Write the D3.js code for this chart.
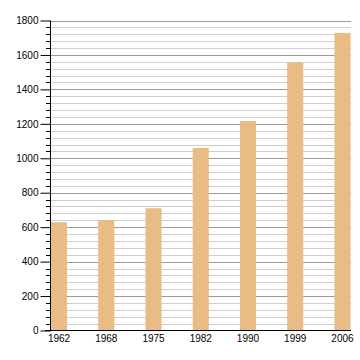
<!DOCTYPE html>
<html><head><meta charset="utf-8">
<script src="https://cdn.jsdelivr.net/npm/d3@7"></script>
<style>body{margin:0;background:#fff}svg{display:block}text{font-family:"Liberation Sans",Arial,sans-serif;font-size:10px;fill:#000}</style>
</head><body><svg id="c" width="360" height="360"></svg>
<script>
const years = ["1962","1968","1975","1982","1990","1999","2006"];
const population = [629, 640, 710, 1060, 1216, 1557, 1728];
const yTicks = [0,200,400,600,800,1000,1200,1400,1600,1800];
const minorStep = 40;

(function(){
const svg = d3.select("#c");
const pL = 50.5, pR = 351, pT = 20.5, pB = 330.5;
const x = d3.scaleBand().domain(years).range([51, 350.5]).paddingInner(0.66).paddingOuter(0);
const y = d3.scaleLinear().domain([0,1800]).range([pB, pT]);
const minors = d3.range(0, 1801, minorStep).filter(v => v % 200 !== 0);

svg.append("g").selectAll("line").data(minors).join("line")
  .attr("x1", pL).attr("x2", pR)
  .attr("y1", d => Math.round(y(d)) + 0.5).attr("y2", d => Math.round(y(d)) + 0.5)
  .attr("stroke", "#cfcfcf").attr("stroke-width", 1);
svg.append("g").selectAll("line").data(yTicks.filter(d=>d>0)).join("line")
  .attr("x1", pL).attr("x2", pR)
  .attr("y1", d => Math.round(y(d)) + 0.5).attr("y2", d => Math.round(y(d)) + 0.5)
  .attr("stroke", "#9a9a9a").attr("stroke-width", 1);

svg.append("g").selectAll("rect").data(years).join("rect")
  .attr("x", d => x(d)).attr("width", x.bandwidth())
  .attr("y", (d,i) => y(population[i])).attr("height", (d,i) => pB - y(population[i]))
  .attr("fill", "#e8bc84");

svg.append("g").selectAll("line").data(minors).join("line")
  .attr("x1", 46).attr("x2", pL)
  .attr("y1", d => Math.round(y(d)) + 0.5).attr("y2", d => Math.round(y(d)) + 0.5)
  .attr("stroke", "#000");
const yAxis = d3.axisLeft(y).tickValues(yTicks).tickSize(10).tickPadding(2).tickFormat(d3.format("d"));
const ga = svg.append("g").attr("transform", `translate(${pL},0)`).call(yAxis);
ga.select(".domain").remove();
ga.selectAll("text").style("font-size","10px").style("font-family",'"Liberation Sans",Arial,sans-serif');
svg.append("line").attr("x1", pL).attr("x2", pL).attr("y1", pT).attr("y2", pB).attr("stroke","#000");
svg.append("line").attr("x1", 45).attr("x2", pR).attr("y1", pB).attr("y2", pB).attr("stroke","#000");

const xAxis = d3.axisBottom(x).tickSize(0).tickPadding(4);
const gx = svg.append("g").attr("transform", `translate(0,${pB})`).call(xAxis);
gx.select(".domain").remove();
gx.selectAll("text").style("font-size","10px").style("font-family",'"Liberation Sans",Arial,sans-serif');
})();
</script></body></html>
